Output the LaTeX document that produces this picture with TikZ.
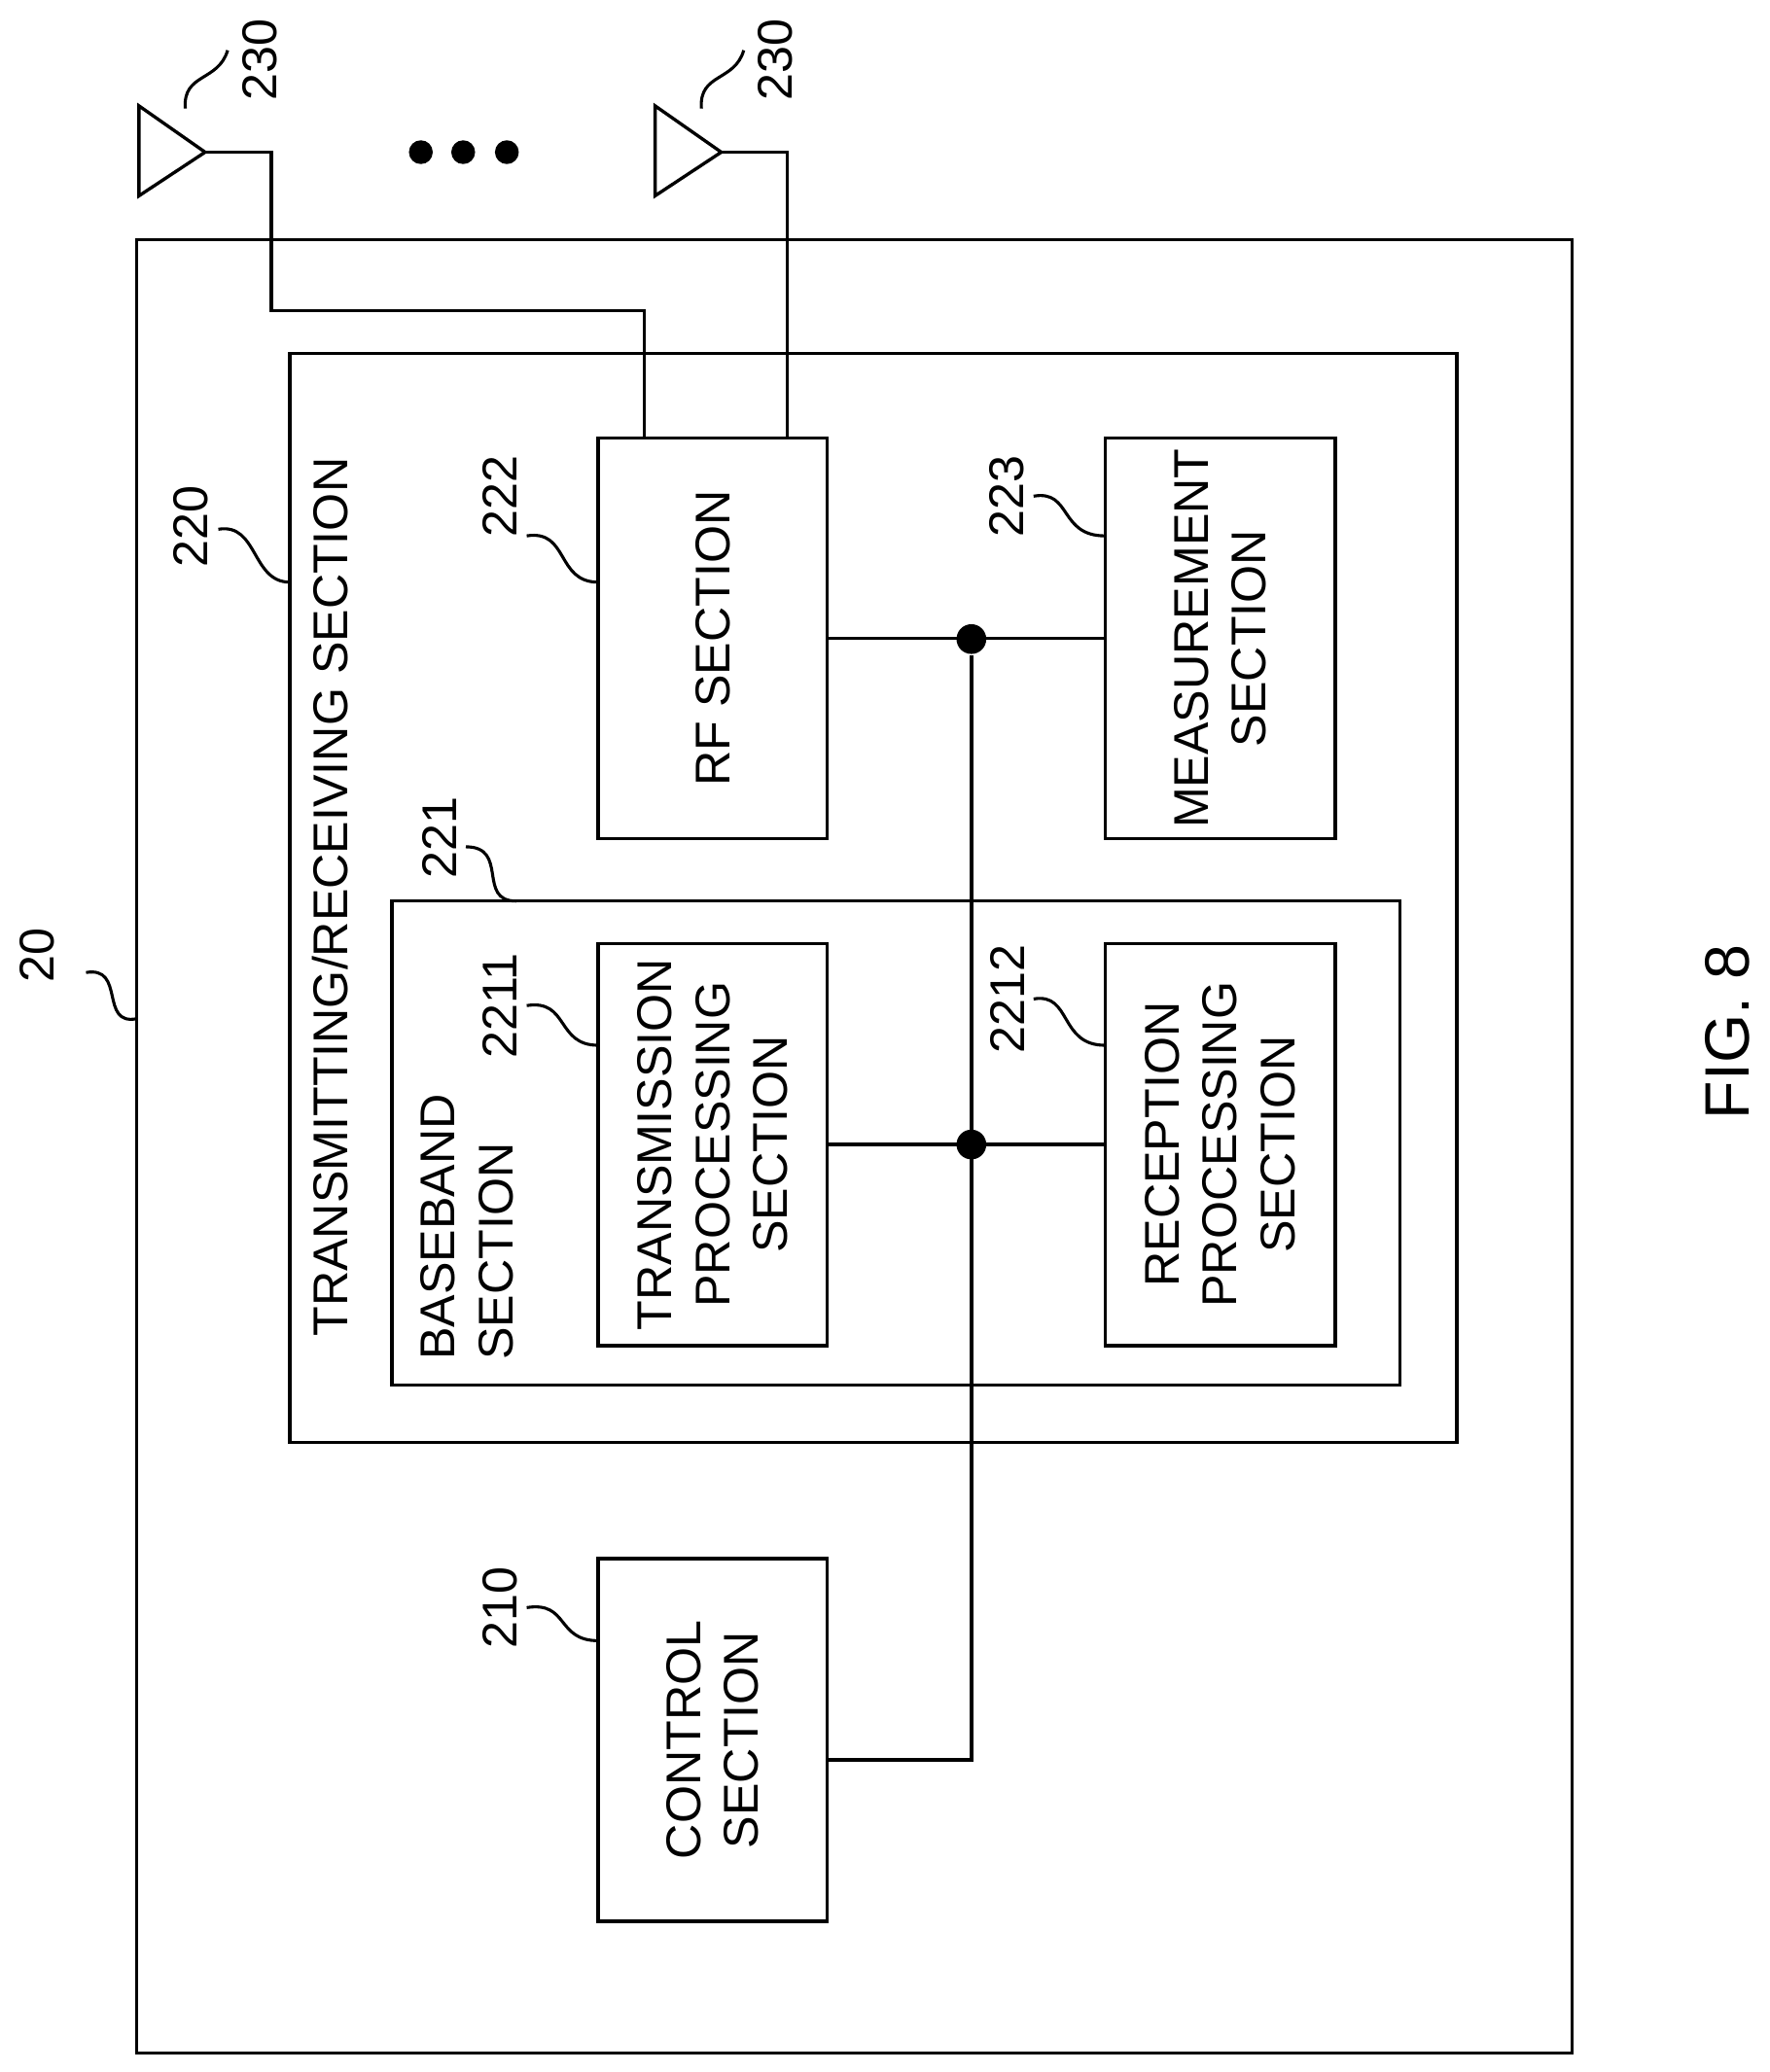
\documentclass[tikz,border=0pt]{standalone}
\usepackage{fontspec}
\setmainfont{Liberation Sans}
\usetikzlibrary{positioning}
\begin{document}
\begin{tikzpicture}[x=0.02cm,y=-0.02cm,line width=1.4pt,
    txt/.style={rotate=90,align=center,font=\fontsize{21}{25}\selectfont},
    lbl/.style={rotate=90,font=\fontsize{21}{25}\selectfont},
    lead/.style={line width=1.3pt},
    dot/.style={circle,fill,inner sep=0pt,minimum size=0.45cm}]
  \useasboundingbox (0,0) rectangle (1337,1566);

  % frames
  \node (ue) [draw,minimum width=21.7cm,minimum height=27.42cm] at (645.5,866.5) {};
  \node (trx) [draw,minimum width=17.64cm,minimum height=16.46cm] at (660,678.5) {};
  \node (bb) [draw,minimum width=15.24cm,minimum height=7.32cm] at (677,864) {};

  % blocks
  \node (rf) [draw,minimum width=3.46cm,minimum height=6.06cm] at (538.5,482.5) {};
  \node (meas) [draw,minimum width=3.48cm,minimum height=6.06cm] at (922,482.5) {};
  \node (tx) [draw,minimum width=3.46cm,minimum height=6.08cm] at (538.5,865) {};
  \node (rx) [draw,minimum width=3.48cm,minimum height=6.08cm] at (922,865) {};
  \node (ctrl) [draw,minimum width=3.46cm,minimum height=5.48cm] at (538.5,1315) {};

  \node [txt] at (rf) {RF SECTION};
  \node [txt] at (meas) {MEASUREMENT\\SECTION};
  \node [txt] at (tx) {TRANSMISSION\\PROCESSING\\SECTION};
  \node [txt] at (rx) {RECEPTION\\PROCESSING\\SECTION};
  \node [txt] at (ctrl) {CONTROL\\SECTION};
  \node [txt,align=left,anchor=south west] at (395,1035) {BASEBAND\\SECTION};
  \node [txt,anchor=south] at (270,678) {TRANSMITTING/RECEIVING SECTION};

  % bus
  \node (j1) [dot] at (734,483) {};
  \node (j2) [dot] at (734,865) {};
  \coordinate (c1) at (734,1330);
  \draw (rf.east) -- (meas.west);
  \draw (tx.east) -- (rx.west);
  \draw (ctrl.east |- c1) -- (c1) -- (j1);

  % antennas
  \coordinate (a1) at (155,115);
  \coordinate (a2) at (545,115);
  \draw (a1) -- (105,80) -- (105,148) -- cycle;
  \draw (a2) -- (495,80) -- (495,148) -- cycle;
  \coordinate (f1) at (487,331);
  \coordinate (f2) at (595,331);
  \draw (a1) -- (205,115) -- (205,235) -| (f1);
  \draw (a2) -| (f2);
  \foreach \x in {318,350,383}
    \fill (\x,115) circle (0.18cm);

  % reference numerals
  \node (n230a) [lbl] at (196,45) {230};
  \node (n230b) [lbl] at (586,45) {230};
  \node (n20) [lbl,anchor=south] at (48,722) {20};
  \node (n220) [lbl,anchor=south] at (164,398) {220};
  \node (n222) [lbl,anchor=south] at (398,375) {222};
  \node (n223) [lbl,anchor=south] at (781,375) {223};
  \node (n221) [lbl,anchor=south] at (352,633) {221};
  \node (n2211) [lbl,anchor=south] at (398,760) {2211};
  \node (n2212) [lbl,anchor=south] at (781,755) {2212};
  \node (n210) [lbl,anchor=south] at (398,1215) {210};
  \node (fig) [rotate=90,font=\fontsize{27}{30}\selectfont] at (1305,780) {FIG. 8};

  \draw [lead] (140,82) .. controls (138,55) and (165,62) .. (172,38);
  \draw [lead] (530,82) .. controls (528,55) and (555,62) .. (562,38);
  \draw [lead] (65,735) .. controls (95,730) and (75,775) .. (103,770);
  \draw [lead] (165,400) .. controls (195,395) and (190,440) .. (219,440);
  \draw [lead] (398,405) .. controls (430,400) and (420,440) .. (452,440);
  \draw [lead] (781,375) .. controls (810,370) and (800,405) .. (835,405);
  \draw [lead] (352,640) .. controls (385,640) and (360,681) .. (390,681);
  \draw [lead] (398,760) .. controls (430,755) and (420,790) .. (452,790);
  \draw [lead] (781,755) .. controls (810,750) and (800,790) .. (835,790);
  \draw [lead] (398,1215) .. controls (430,1210) and (420,1240) .. (452,1240);
\end{tikzpicture}
\end{document}
